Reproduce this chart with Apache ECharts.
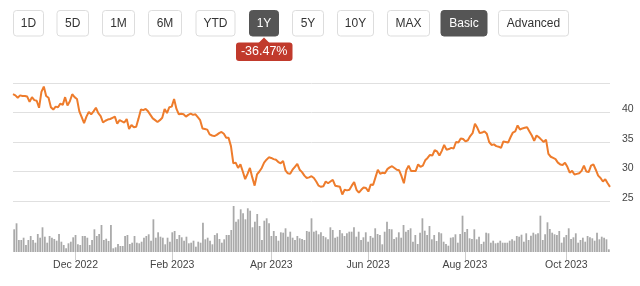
<!DOCTYPE html>
<html>
<head>
<meta charset="utf-8">
<script src="https://cdn.jsdelivr.net/npm/echarts@6/dist/echarts.min.js"></script>
<style>
  html, body { margin: 0; padding: 0; background: #fff; }
  #chart { width: 640px; height: 286px; }
</style>
</head>
<body>
<div id="chart"></div>
<script>
// closing price, one value per trading day (25 Oct 2022 .. 26 Oct 2023)
const price = [
  43.1, 42.9, 42.5, 42.9, 42.8, 42.8, 42.7, 41.8, 42.6, 42.1,
  42.0, 40.8, 43.5, 44.4, 42.8, 42.5, 40.9, 40.5, 41.0, 40.9,
  41.5, 41.3, 42.6, 41.2, 41.9, 43.1, 42.6, 42.3, 40.2, 39.2,
  38.2, 39.3, 40.1, 39.7, 40.2, 40.8, 39.9, 39.4, 38.3, 38.6,
  38.8, 38.9, 39.1, 39.3, 38.1, 38.7, 38.5, 38.3, 38.9, 37.2,
  37.9, 37.5, 37.6, 39.0, 40.5, 40.4, 40.6, 40.2, 39.6, 39.0,
  38.7, 38.4, 38.7, 39.1, 40.6, 39.9, 40.9, 41.0, 42.3, 40.6,
  39.7, 39.8, 39.7, 39.3, 39.6, 39.8, 39.6, 39.7, 39.2, 38.7,
  37.3, 37.2, 37.1, 36.3, 36.1, 36.0, 36.2, 36.5, 36.7, 36.4,
  35.7, 35.7, 34.3, 31.4, 31.5, 30.6, 31.2, 30.0, 28.7, 29.6,
  30.6, 29.0, 27.6, 29.5, 30.0, 30.6, 31.5, 32.0, 32.4, 32.3,
  32.1, 32.0, 31.6, 31.4, 31.8, 30.2, 29.7, 29.6, 30.3, 30.8,
  31.3, 30.3, 29.9, 29.3, 28.9, 29.0, 29.2, 28.9, 28.3, 27.6,
  27.4, 27.5, 28.3, 28.0, 28.3, 28.6, 27.6, 27.5, 27.4, 26.1,
  26.9, 26.8, 26.9, 27.6, 28.2, 26.9, 26.4, 26.9, 27.3, 27.2,
  26.6, 27.8, 27.7, 29.0, 30.3, 29.6, 29.8, 29.7, 30.4, 30.7,
  30.9, 30.6, 30.3, 30.2, 29.2, 28.0, 30.2, 31.0, 30.1, 30.1,
  30.1, 31.2, 30.8, 31.0, 31.9, 32.3, 32.8, 32.7, 33.6, 33.4,
  32.7, 33.5, 34.5, 33.7, 33.8, 34.0, 33.9, 35.0, 34.9, 35.6,
  35.5, 35.1, 35.3, 36.0, 36.5, 38.1, 37.4, 36.5, 36.6, 36.8,
  36.4, 35.0, 34.5, 34.6, 34.3, 34.2, 34.0, 35.1, 35.0, 34.9,
  35.8, 36.6, 36.8, 37.8, 37.1, 37.3, 37.4, 37.5, 36.8, 36.1,
  35.2, 36.1, 35.8, 35.4, 35.0, 35.4, 33.0, 32.5, 32.3, 32.1,
  31.5, 31.2, 31.1, 31.5, 30.8, 29.8, 30.1, 29.5, 29.6, 29.7,
  30.1, 31.0, 30.0, 29.9, 31.0, 31.2, 30.3, 29.3, 28.9, 28.3,
  28.7, 28.0, 27.4
];

// daily volume, millions of shares
const volume = [
  22.7, 28.7, 12, 12, 14.3, 7, 12, 16, 12, 9.3,
  18, 14.3, 24.7, 15.3, 9.3, 16, 14.3, 13, 11.3, 18,
  10.3, 7, 3.7, 8.7, 10.3, 14.7, 17, 7.7, 7, 16,
  16, 14.3, 7, 12, 22.7, 16, 18, 27, 12, 13.3,
  11, 27, 3.7, 4.7, 8, 6, 6, 16, 17, 8,
  9.3, 16, 9.3, 8.7, 10.3, 14.3, 16, 17.7, 11.3, 32.7,
  14.3, 19.7, 15.3, 14.3, 7.7, 14.3, 10.3, 19.7, 21, 13,
  17, 14.7, 11.3, 15.3, 8.7, 9.3, 11.3, 5.3, 10.3, 9.3,
  29.3, 12.7, 14.3, 11.3, 7.7, 17, 18.7, 13, 9.3, 12.7,
  17, 17, 22, 46, 30.3, 32.7, 42.7, 38.7, 32.7, 43.7,
  41.3, 24.7, 30.3, 38, 26, 12, 31.3, 33.7, 28.7, 16,
  21, 16, 11.3, 19.7, 19.3, 23.7, 15.3, 20.3, 14.3, 12,
  16, 13.7, 13, 12, 21, 20.3, 33.7, 20.3, 21.3, 17.7,
  19.7, 16, 14.7, 12.7, 24.7, 22, 14.3, 15.3, 22, 18.7,
  16, 18.7, 20.3, 20.3, 24.7, 15.3, 20.3, 12, 14.7, 19.7,
  10.3, 16, 14.3, 23.7, 18, 17, 7.7, 20.3, 30.3, 23,
  22.7, 13, 14.7, 19.7, 14.3, 27, 20.3, 22, 23.7, 10.3,
  17, 8, 19.3, 33.7, 21.3, 17, 26, 12.7, 17, 11,
  19.7, 18.7, 10.3, 8, 6.3, 14.3, 14.7, 17.7, 9.3, 18,
  36.3, 20, 23, 13.7, 13, 22.7, 12.7, 15.3, 8, 10.3,
  19.3, 18.7, 9.3, 11.3, 8.7, 9.3, 11.3, 9.3, 9.3, 9.3,
  11.3, 12.7, 11.3, 16, 15.3, 17.3, 10.3, 18.7, 12, 16.3,
  19.3, 17.7, 18.7, 36.3, 12, 17.7, 29.7, 23, 19.3, 17.7,
  17, 21, 9.3, 14.7, 17, 23.7, 13, 14.7, 18.7, 9.3,
  12, 14.3, 10.3, 16, 14.7, 13.7, 11.3, 19.3, 12.7, 15.3,
  14.3, 12.7, 2.7
];

const marketHolidays = ['2022-11-24', '2022-12-26', '2023-01-02', '2023-01-16', '2023-02-20',
  '2023-04-07', '2023-05-29', '2023-06-19', '2023-07-04', '2023-09-04'];
const labelMonths = [11, 1, 3, 5, 7, 9]; // Dec, Feb, Apr, Jun, Aug, Oct
const monthNames = ['Jan', 'Feb', 'Mar', 'Apr', 'May', 'Jun', 'Jul', 'Aug', 'Sep', 'Oct', 'Nov', 'Dec'];
const priceTicks = [25, 30, 35, 40];
const rangeButtons = ['1D', '5D', '1M', '6M', 'YTD', '1Y', '5Y', '10Y', 'MAX', 'Basic', 'Advanced'];
const activeButtons = ['1Y', 'Basic'];
const changeLabel = '-36.47%';

// trading days
const dates = [];
for (let t = Date.UTC(2022, 9, 25); t <= Date.UTC(2023, 9, 26); t += 86400000) {
  const d = new Date(t);
  const wd = d.getUTCDay();
  const s = d.toISOString().slice(0, 10);
  if (wd === 0 || wd === 6 || marketHolidays.includes(s)) continue;
  dates.push(s);
}

// first trading day of the labelled months
const isLabelDay = (i) => {
  if (i === 0) return false;
  const m = +dates[i].slice(5, 7) - 1;
  const pm = +dates[i - 1].slice(5, 7) - 1;
  return m !== pm && labelMonths.includes(m);
};

const font = 'Liberation Sans, Arial, sans-serif';

// button row (layout only)
const btnX = [13.5, 57, 102.5, 148.5, 196, 249.5, 292.5, 337.5, 387.5, 441, 498.5];
const btnW = [30, 31.5, 32, 33, 39, 29, 31, 36, 42, 46, 70];
const graphic = [];
rangeButtons.forEach((label, i) => {
  const active = activeButtons.includes(label);
  graphic.push({
    type: 'rect',
    shape: { x: btnX[i], y: 10.5, width: btnW[i], height: 25.5, r: 3 },
    style: { fill: active ? '#555555' : '#ffffff', stroke: active ? '#555555' : '#dddddd', lineWidth: 1 }
  });
  graphic.push({
    type: 'text',
    x: btnX[i] + btnW[i] / 2,
    y: 23.5,
    style: { text: label, fill: active ? '#ffffff' : '#333333', font: '12px ' + font, textAlign: 'center', textVerticalAlign: 'middle' }
  });
});
// change badge under the active range
graphic.push({
  type: 'polygon',
  shape: { points: [[258.5, 43], [264, 37.5], [269.5, 43]] },
  style: { fill: '#c13a2c' }
});
graphic.push({
  type: 'rect',
  shape: { x: 236, y: 42.5, width: 56.5, height: 18.5, r: 3 },
  style: { fill: '#c13a2c' }
});
graphic.push({
  type: 'text',
  x: 264.2,
  y: 52,
  style: { text: changeLabel, fill: '#ffffff', font: '12.5px ' + font, textAlign: 'center', textVerticalAlign: 'middle' }
});

const chart = echarts.init(document.getElementById('chart'));
chart.setOption({
  animation: false,
  textStyle: { fontFamily: font },
  grid: [
    { left: 13, top: 83, width: 597, height: 118 },
    { left: 13, top: 202, width: 597, height: 50 }
  ],
  xAxis: [
    { type: 'category', gridIndex: 0, data: dates, boundaryGap: false, show: false },
    {
      type: 'category',
      gridIndex: 1,
      data: dates,
      boundaryGap: true,
      axisLine: { show: false },
      axisTick: { show: true, interval: (i) => isLabelDay(i), alignWithLabel: true, length: 8, lineStyle: { color: '#cfcfcf' } },
      axisLabel: {
        interval: (i) => isLabelDay(i),
        formatter: (v) => monthNames[+v.slice(5, 7) - 1] + ' ' + v.slice(0, 4),
        color: '#444',
        fontSize: 10.5,
        margin: 8
      }
    }
  ],
  yAxis: [
    {
      type: 'value',
      gridIndex: 0,
      position: 'right',
      min: 25,
      max: 45,
      interval: 5,
      axisLine: { show: false },
      axisTick: { show: false },
      splitLine: { lineStyle: { color: '#e0e0e0', width: 1 } },
      axisLabel: {
        margin: 12,
        color: '#444',
        fontSize: 10.5,
        verticalAlign: 'bottom',
        lineHeight: 6,
        formatter: (v) => (priceTicks.includes(v) ? String(v) : '')
      }
    },
    { type: 'value', gridIndex: 1, min: 0, max: 50, show: false }
  ],
  series: [
    {
      type: 'bar',
      xAxisIndex: 1,
      yAxisIndex: 1,
      data: volume,
      barCategoryGap: '25%',
      itemStyle: { color: '#a9a9a9' }
    },
    {
      type: 'line',
      xAxisIndex: 0,
      yAxisIndex: 0,
      data: price,
      showSymbol: false,
      lineStyle: { color: '#ee7c2c', width: 2 },
      z: 3
    }
  ],
  graphic: graphic
});
</script>
</body>
</html>
